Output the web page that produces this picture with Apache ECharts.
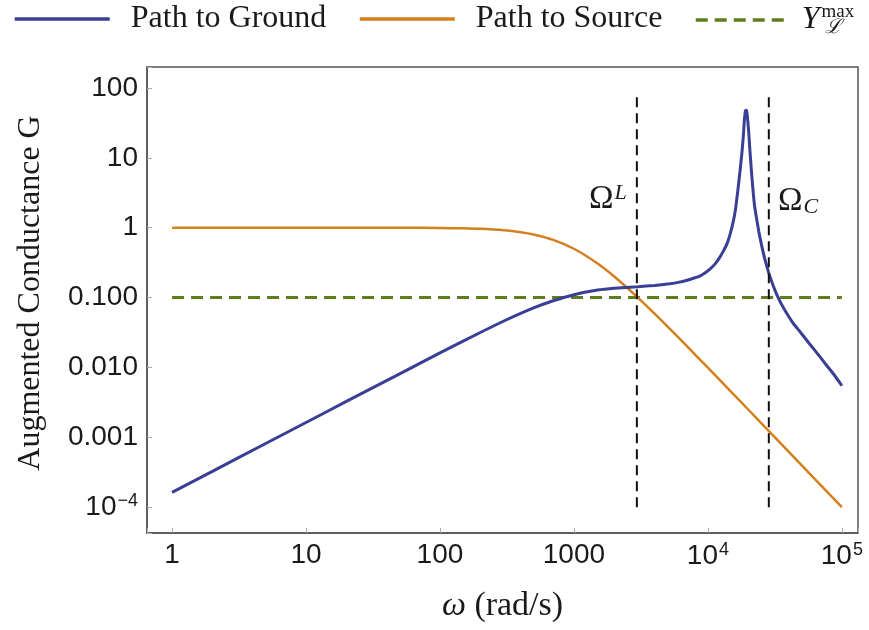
<!DOCTYPE html>
<html><head><meta charset="utf-8">
<script src="https://cdn.jsdelivr.net/npm/echarts@6/dist/echarts.min.js"></script>
<style>html,body{margin:0;padding:0;background:#fff}#c{width:869px;height:630px}</style>
</head><body><div id="c"></div>
<script>
// ---- data ----
const groundOmega = [1,2,5,10,20,50,100,200,300,500,700,1000,1500,2000,3000,4000,5000,6000,7000,8000,8710,9500,10350,11280,12290,13160,13860,14590,15370,16040,16750,17340,17940,18410,18720,19050,19300,19550,19890,20240,20580,21110,21780,22420,23200,24030,25160,26620,28510,30550,32700,35070,37550,40230,43000,49400,57700,66200,77300,88700,100000];
const groundG = [1.63e-4,3.26e-4,8.15e-4,1.63e-3,3.26e-3,8.1e-3,0.0162,0.0316,0.0462,0.071,0.090,0.110,0.128,0.136,0.143,0.149,0.156,0.165,0.177,0.192,0.203,0.224,0.255,0.301,0.379,0.478,0.582,0.783,1.16,1.79,3.46,6.27,11.7,21.2,34.8,46.9,48,45,32.6,21.2,12.9,6.69,3.24,1.91,1.29,0.865,0.563,0.355,0.224,0.153,0.110,0.0832,0.0660,0.0532,0.0436,0.0314,0.0215,0.0155,0.01057,0.0076,0.00547];
const sourceOmega = [1,10,50,100,150,200,300,400,500,700,1000,1500,2000,3000,4000,5000,7000,10000,20000,30000,50000,100000];
const sourceG = [1,1,0.998,0.99,0.978,0.962,0.917,0.862,0.80,0.671,0.50,0.308,0.20,0.10,0.0588,0.0385,0.020,0.0099,0.0025,0.00111,0.0004,0.0001];
const limitOmega = [1,100000];
const limitG = [0.1,0.1];
const omegaL = 2950;
const omegaC = 28500;
const markerRange = [1e-4, 90];
const xTickExps = [0,1,2,3,4,5];
const xTickLabels = ['1','10','100','1000','10^4','10^5'];
const yTickExps = [2,1,0,-1,-2,-3,-4];
const yTickLabels = ['100','10','1','0.100','0.010','0.001','10^-4'];
const seriesNames = ['Path to Ground','Path to Source','Ymax'];

// ---- helpers ----
const zip = (a,b) => a.map((v,i)=>[v,b[i]]);
function fmtTick(v, exps, labels){
  const l = Math.log10(v), e = Math.round(l);
  if (Math.abs(l-e) > 0.01) return '';
  const i = exps.indexOf(e);
  if (i < 0) return '';
  const t = labels[i];
  if (t.indexOf('^') >= 0){
    const p = t.split('^');
    return '{b|' + p[0] + '}{s|' + p[1].replace('-', '\u2212') + '}';
  }
  return t;
}
const SANS = 'Liberation Sans, Arial, sans-serif';
const SERIF = 'Liberation Serif, Times New Roman, serif';
const tickRich = {
  b: {fontFamily: SANS, fontSize: 28, color: '#1a1a1a', lineHeight: 30},
  s: {fontFamily: SANS, fontSize: 18, color: '#1a1a1a', verticalAlign: 'top', lineHeight: 30, padding:[0,0,14,1]}
};
const legText = {fontFamily: SERIF, fontSize: 32, color: '#1a1a1a', padding: [0,0,0,16]};
const legBase = {top: -2, itemWidth: 95, itemHeight: 14, itemStyle: {opacity: 0}, lineStyle: {width: 3.5}};

const chart = echarts.init(document.getElementById('c'), null, {renderer: 'canvas'});
chart.setOption({
  animation: false,
  backgroundColor: '#fff',
  grid: {left: 147, right: 11, top: 67, bottom: 97, show: true, borderColor: '#555', borderWidth: 1.5, backgroundColor: 'transparent'},
  legend: [
    Object.assign({data: [seriesNames[0]], left: 8, textStyle: legText}, legBase),
    Object.assign({data: [seriesNames[1]], left: 353, textStyle: legText}, legBase),
    Object.assign({}, legBase, {data: [seriesNames[2]], left: 689, itemWidth: 89,
      formatter: () => '{y|Y}{m|max}',
      textStyle: {padding: [0,0,0,12], rich: {
        y: {fontFamily: SERIF, fontStyle: 'italic', fontSize: 32, color: '#1a1a1a', lineHeight: 34},
        m: {fontFamily: SERIF, fontSize: 19, color: '#1a1a1a', verticalAlign: 'top', lineHeight: 34, padding: [0,0,15,2]}
      }}})
  ],
  xAxis: {
    type: 'log', logBase: 10, min: 0.65, max: 132000,
    name: '{i|\u03c9} (rad/s)', nameLocation: 'middle', nameGap: 56,
    nameTextStyle: {fontFamily: SERIF, fontSize: 34, color: '#1a1a1a',
      rich: {i: {fontFamily: SERIF, fontStyle: 'italic', fontSize: 34, color: '#1a1a1a'}}},
    axisLine: {show: true, lineStyle: {color: '#555', width: 1.5}},
    axisTick: {show: true, inside: true, length: 5, lineStyle: {color: '#aaa'}},
    splitLine: {show: false},
    axisLabel: {margin: 8, fontFamily: SANS, fontSize: 28, color: '#1a1a1a', rich: tickRich,
      formatter: v => fmtTick(v, xTickExps, xTickLabels)}
  },
  yAxis: {
    type: 'log', logBase: 10, min: 4.27e-5, max: 199.5,
    name: 'Augmented Conductance G', nameLocation: 'middle', nameGap: 100,
    nameTextStyle: {fontFamily: SERIF, fontSize: 32, color: '#1a1a1a', padding: [0,0,0,14]},
    axisLine: {show: true, lineStyle: {color: '#555', width: 1.5}},
    axisTick: {show: true, inside: true, length: 5, lineStyle: {color: '#aaa'}},
    splitLine: {show: false},
    axisLabel: {margin: 9, fontFamily: SANS, fontSize: 28, color: '#1a1a1a', rich: tickRich,
      formatter: v => fmtTick(v, yTickExps, yTickLabels)}
  },
  series: [
    {name: seriesNames[0], type: 'line', data: zip(groundOmega, groundG), symbol: 'none', smooth: 0.15,
      color: '#383f94', lineStyle: {color: '#383f94', width: 3}, z: 5},
    {name: seriesNames[1], type: 'line', data: zip(sourceOmega, sourceG), symbol: 'none', smooth: 0.3,
      color: '#d4801e', lineStyle: {color: '#d4801e', width: 2.5}, z: 4},
    {name: seriesNames[2], type: 'line', data: zip(limitOmega, limitG), symbol: 'none',
      color: '#5e7d1c', lineStyle: {color: '#5e7d1c', width: 3, type: [12,7]}, z: 3},
    {name: 'OmegaL', type: 'line', data: [[omegaL, markerRange[0]],[omegaL, markerRange[1]]], symbol: 'none',
      lineStyle: {color: '#111', width: 2, type: [10,6]}, z: 6},
    {name: 'OmegaC', type: 'line', data: [[omegaC, markerRange[0]],[omegaC, markerRange[1]]], symbol: 'none',
      lineStyle: {color: '#111', width: 2, type: [10,6]}, z: 6}
  ],
  graphic: [
    {type: 'text', left: 825, top: 18, style: {text: '\u2112', font: 'italic 20px ' + SERIF, fill: '#1a1a1a'}},
    {type: 'text', left: 589, top: 182, style: {text: '{o|\u03a9}{s|L}', rich: {
      o: {fontFamily: SERIF, fontSize: 33, fill: '#1a1a1a', lineHeight: 34},
      s: {fontFamily: SERIF, fontStyle: 'italic', fontSize: 22, fill: '#1a1a1a', verticalAlign: 'top', lineHeight: 34, padding: [0,0,14,1]}}}},
    {type: 'text', left: 778, top: 184, style: {text: '{o|\u03a9}{s|C}', rich: {
      o: {fontFamily: SERIF, fontSize: 33, fill: '#1a1a1a', lineHeight: 34},
      s: {fontFamily: SERIF, fontStyle: 'italic', fontSize: 22, fill: '#1a1a1a', verticalAlign: 'bottom', lineHeight: 34, padding: [12,0,0,1]}}}}
  ]
});
</script></body></html>
